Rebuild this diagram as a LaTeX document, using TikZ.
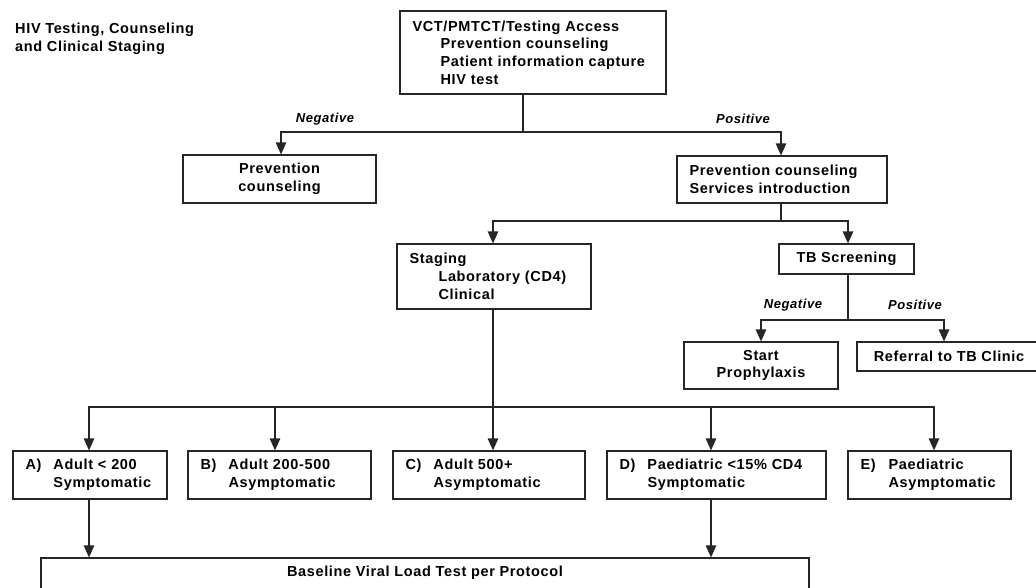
\documentclass[tikz,border=0pt]{standalone}
\usepackage{fontspec}
\setmainfont{Liberation Sans}[LetterSpace=4.5]
\usetikzlibrary{arrows.meta}
\colorlet{ln}{black!85}
\begin{document}
\begin{tikzpicture}[x=1pt,y=-1pt,
  every node/.style={font=\fontsize{14.5}{17.7}\selectfont\bfseries, text=black},
  box/.style={draw=ln, line width=1.2pt, rectangle, inner sep=0pt},
  lbox/.style={box, align=left, inner xsep=12.5pt, text width=#1-25pt},
  cbox/.style={box, align=center},
  lbl/.style={font=\fontsize{13}{15}\selectfont\bfseries\itshape, inner sep=0pt},
  conn/.style={draw=ln, line width=1.2pt},
  arr/.style={conn, -{Triangle[width=10.5pt,length=12pt]}}
]
\useasboundingbox (0,0) rectangle (1036,587);

% title
\node[anchor=west, align=left, inner sep=0pt] (title) at (15,39)
  {HIV Testing, Counseling\\and Clinical Staging};

% boxes
\node[lbox=266pt, minimum height=83pt] (top) at (533,52.5)
  {VCT/PMTCT/Testing Access\\
   \hspace*{28pt}Prevention counseling\\
   \hspace*{28pt}Patient information capture\\
   \hspace*{28pt}HIV test};
\node[cbox, minimum width=193pt, minimum height=48pt] (prevL) at (279.5,179)
  {Prevention\\counseling};
\node[lbox=210pt, minimum height=47pt] (prevR) at (782,179.5)
  {Prevention counseling\\Services introduction};
\node[lbox=194pt, minimum height=65pt] (staging) at (494,276.5)
  {Staging\\
   \hspace*{29pt}Laboratory (CD4)\\
   \hspace*{29pt}Clinical};
\node[cbox, minimum width=135pt, minimum height=30pt] (tb) at (846.5,259)
  {TB Screening};
\node[cbox, minimum width=154pt, minimum height=47pt] (proph) at (761,365.5)
  {Start\\Prophylaxis};
\node[cbox, minimum width=184pt, minimum height=29pt] (refer) at (949,356.5)
  {Referral to TB Clinic};

\node[lbox=154pt, minimum height=48pt] (A) at (90,475)
  {\makebox[28pt][l]{A)}Adult < 200\\\hspace*{28pt}Symptomatic};
\node[lbox=183pt, minimum height=48pt] (B) at (279.5,475)
  {\makebox[28pt][l]{B)}Adult 200-500\\\hspace*{28pt}Asymptomatic};
\node[lbox=192pt, minimum height=48pt] (C) at (489,475)
  {\makebox[28pt][l]{C)}Adult 500+\\\hspace*{28pt}Asymptomatic};
\node[lbox=219pt, minimum height=48pt] (D) at (716.5,475)
  {\makebox[28pt][l]{D)}Paediatric <15\% CD4\\\hspace*{28pt}Symptomatic};
\node[lbox=163pt, minimum height=48pt] (E) at (929.5,475)
  {\makebox[28pt][l]{E)}Paediatric\\\hspace*{28pt}Asymptomatic};

\node[box, minimum width=768pt, minimum height=52pt] (base) at (425,584) {};
\node[inner sep=0pt] (basetxt) at (425,573) {Baseline Viral Load Test per Protocol};

% labels
\node[lbl] (negA) at (325,119) {Negative};
\node[lbl] (posA) at (743,119) {Positive};
\node[lbl] (negB) at (793,305) {Negative};
\node[lbl] (posB) at (915,305) {Positive};

% junctions
\coordinate (j1) at (523,132);
\coordinate (j2) at (781,221);
\coordinate (j3) at (848,320);
\coordinate (j4) at (493,407);

% connectors
\draw[conn] (top.south -| j1) -- (j1);
\draw[arr] (j1) -| ([xshift=1.5pt]prevL.north);
\draw[arr] (j1) -| ([xshift=-1pt]prevR.north);

\draw[conn] (prevR.south -| j2) -- (j2);
\draw[arr] (j2) -| ([xshift=-1pt]staging.north);
\draw[arr] (j2) -| ([xshift=1.5pt]tb.north);

\draw[conn] (tb.south -| j3) -- (j3);
\draw[arr] (j3) -| (proph.north);
\draw[arr] (j3) -| ([xshift=-5pt]refer.north);

\draw[conn] (staging.south -| j4) -- (j4);
\draw[arr] (j4) -| ([xshift=-1pt]A.north);
\draw[arr] (j4) -| ([xshift=-4.5pt]B.north);
\draw[arr] (j4) -| ([xshift=4pt]C.north);
\draw[arr] (j4) -| ([xshift=-5.5pt]D.north);
\draw[arr] (j4) -| ([xshift=4.5pt]E.north);

\draw[arr] ([xshift=-1pt]A.south) -- ([xshift=-1pt]A.south |- base.north);
\draw[arr] ([xshift=-5.5pt]D.south) -- ([xshift=-5.5pt]D.south |- base.north);
\end{tikzpicture}
\end{document}
